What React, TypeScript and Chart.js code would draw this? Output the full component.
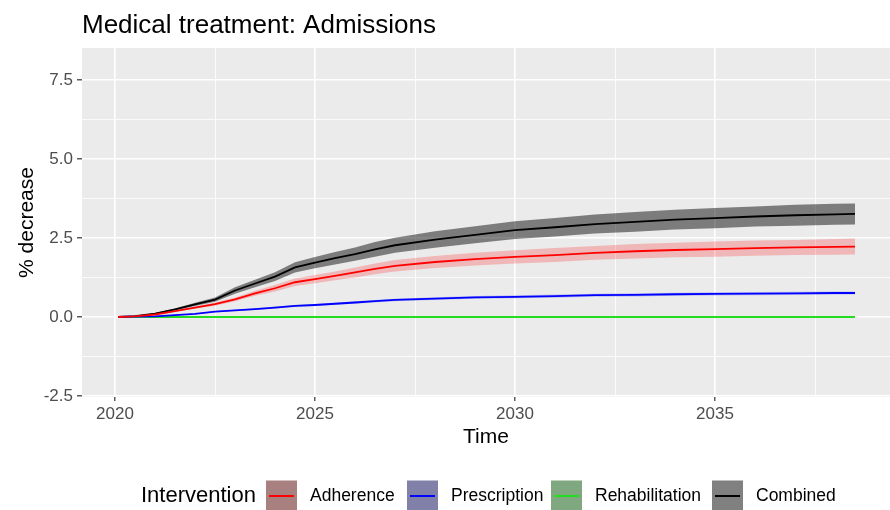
import { useEffect, useRef } from "react";
import { Chart, registerables } from "chart.js";

Chart.register(...registerables);

const FONT = '"Liberation Sans", Arial, Helvetica, sans-serif';

// Time points (years)
const years = [
  2020.08, 2020.5, 2021, 2021.5, 2022, 2022.5, 2023, 2023.5, 2024, 2024.5, 2025, 2025.5, 2026, 2026.5,
  2027, 2028, 2029, 2030, 2031, 2032, 2033, 2034, 2035, 2036, 2037, 2038, 2038.5,
];

// % decrease in admissions, central estimates
const adherence = [
  0, 0.02, 0.08, 0.19, 0.3, 0.41, 0.56, 0.75, 0.91, 1.1, 1.2, 1.3, 1.41, 1.52,
  1.62, 1.74, 1.83, 1.9, 1.96, 2.03, 2.08, 2.12, 2.15, 2.18, 2.2, 2.22, 2.23,
];
const prescription = [
  0, 0.01, 0.02, 0.06, 0.1, 0.17, 0.21, 0.25, 0.3, 0.35, 0.38, 0.42, 0.46, 0.5,
  0.54, 0.58, 0.62, 0.64, 0.66, 0.69, 0.7, 0.72, 0.73, 0.74, 0.75, 0.76, 0.76,
];
const rehabilitation = [
  0, 0, 0, 0, 0, 0, 0, 0, 0, 0, 0, 0, 0, 0,
  0, 0, 0, 0, 0, 0, 0, 0, 0, 0, 0, 0, 0,
];
const combined = [
  0, 0.03, 0.11, 0.24, 0.4, 0.55, 0.84, 1.06, 1.28, 1.57, 1.72, 1.86, 1.99, 2.14,
  2.27, 2.45, 2.6, 2.75, 2.84, 2.94, 3.01, 3.08, 3.13, 3.18, 3.22, 3.25, 3.26,
];

// Uncertainty bounds
const adherenceLow = [
  0, 0.015, 0.07, 0.17, 0.27, 0.36, 0.5, 0.67, 0.81, 0.98, 1.07, 1.16, 1.25, 1.35,
  1.44, 1.55, 1.63, 1.69, 1.74, 1.81, 1.85, 1.89, 1.91, 1.94, 1.96, 1.97, 1.98,
];
const adherenceHigh = [
  0, 0.025, 0.09, 0.21, 0.33, 0.46, 0.62, 0.83, 1.01, 1.22, 1.33, 1.44, 1.57, 1.69,
  1.8, 1.93, 2.03, 2.11, 2.18, 2.25, 2.31, 2.35, 2.39, 2.42, 2.44, 2.47, 2.48,
];
const prescriptionLow = [
  0, 0.01, 0.015, 0.05, 0.085, 0.15, 0.19, 0.225, 0.27, 0.32, 0.345, 0.385, 0.42, 0.46,
  0.5, 0.535, 0.575, 0.595, 0.61, 0.64, 0.65, 0.67, 0.68, 0.69, 0.7, 0.71, 0.71,
];
const prescriptionHigh = [
  0, 0.01, 0.025, 0.07, 0.115, 0.19, 0.23, 0.275, 0.33, 0.38, 0.415, 0.455, 0.5, 0.54,
  0.58, 0.625, 0.665, 0.685, 0.71, 0.74, 0.75, 0.77, 0.78, 0.79, 0.8, 0.81, 0.81,
];
const rehabilitationLow = [
  0, 0, 0, 0, 0, 0, 0, 0, 0, 0, 0, 0, 0, 0,
  0, 0, 0, 0, 0, 0, 0, 0, 0, 0, 0, 0, 0,
];
const rehabilitationHigh = [
  0, 0, 0, 0, 0, 0, 0, 0, 0, 0, 0, 0, 0, 0,
  0, 0, 0, 0, 0, 0, 0, 0, 0, 0, 0, 0, 0,
];
const combinedLow = [
  0, 0.025, 0.09, 0.21, 0.35, 0.48, 0.74, 0.94, 1.14, 1.41, 1.54, 1.66, 1.78, 1.91,
  2.03, 2.19, 2.33, 2.47, 2.55, 2.64, 2.7, 2.77, 2.81, 2.86, 2.89, 2.92, 2.93,
];
const combinedHigh = [
  0, 0.035, 0.13, 0.27, 0.45, 0.62, 0.94, 1.18, 1.42, 1.73, 1.9, 2.06, 2.2, 2.37,
  2.51, 2.71, 2.87, 3.03, 3.13, 3.24, 3.32, 3.39, 3.45, 3.5, 3.55, 3.58, 3.59,
];

// Axis ticks (empty label = minor grid line)
const yTicks = [-2.5, -1.25, 0, 1.25, 2.5, 3.75, 5, 6.25, 7.5];
const yTickLabels = ["-2.5", "", "0.0", "", "2.5", "", "5.0", "", "7.5"];
const xTicks = [2020, 2022.5, 2025, 2027.5, 2030, 2032.5, 2035, 2037.5];
const xTickLabels = ["2020", "", "2025", "", "2030", "", "2035", ""];

const seriesNames = ["Adherence", "Prescription", "Rehabilitation", "Combined"];
const lineColors = ["#ff0000", "#0000ff", "#22dd22", "#000000"];
const ribbonFills = [
  "rgba(255,0,0,0.22)",
  "rgba(0,0,255,0.2)",
  "rgba(0,200,0,0.2)",
  "rgba(0,0,0,0.47)",
];
const keyFills = ["#a88080", "#8080a8", "#80a880", "#808080"];

const centralSeries = [adherence, prescription, rehabilitation, combined];
const lowSeries = [adherenceLow, prescriptionLow, rehabilitationLow, combinedLow];
const highSeries = [adherenceHigh, prescriptionHigh, rehabilitationHigh, combinedHigh];

// Legend key left edges
const legendKeyX = [266, 407, 551, 712];

const toPoints = (vals: number[]) => years.map((x, i) => ({ x, y: vals[i] }));

// Panel background, titles and bottom legend
const decorPlugin = {
  id: "decor",
  beforeDraw(chart: any) {
    const { ctx, chartArea: a } = chart;
    ctx.save();
    ctx.fillStyle = "#ffffff";
    ctx.fillRect(0, 0, chart.width, chart.height);
    ctx.fillStyle = "#ebebeb";
    ctx.fillRect(a.left, a.top, a.right - a.left, a.bottom - a.top);
    ctx.restore();
  },
  afterDraw(chart: any) {
    const { ctx, chartArea: a } = chart;
    ctx.save();
    ctx.fillStyle = "#000000";
    ctx.textBaseline = "alphabetic";
    ctx.textAlign = "left";
    ctx.font = `26px ${FONT}`;
    ctx.fillText("Medical treatment: Admissions", a.left, 33);

    ctx.font = `21px ${FONT}`;
    ctx.textAlign = "center";
    ctx.fillText("Time", (a.left + a.right) / 2, 443);

    ctx.save();
    ctx.translate(33, (a.top + a.bottom) / 2);
    ctx.rotate(-Math.PI / 2);
    ctx.fillText("% decrease", 0, 0);
    ctx.restore();

    // legend
    const midY = 496;
    ctx.textBaseline = "middle";
    ctx.textAlign = "left";
    ctx.font = `22px ${FONT}`;
    ctx.fillText("Intervention", 141, midY);
    const key = 31;
    seriesNames.forEach((name, i) => {
      const x = legendKeyX[i];
      ctx.fillStyle = keyFills[i];
      ctx.fillRect(x, midY - key / 2, key, key);
      ctx.strokeStyle = lineColors[i];
      ctx.lineWidth = 2;
      ctx.beginPath();
      ctx.moveTo(x + 3, midY);
      ctx.lineTo(x + key - 3, midY);
      ctx.stroke();
      ctx.fillStyle = "#000000";
      ctx.font = `17.5px ${FONT}`;
      ctx.fillText(name, x + key + 13, midY);
    });
    ctx.restore();
  },
};

export default function App() {
  const canvasRef = useRef<HTMLCanvasElement | null>(null);

  useEffect(() => {
    document.body.style.margin = "0";
    const canvas = canvasRef.current;
    if (!canvas) return;

    const lineSets = centralSeries.map((vals, i) => ({
      label: seriesNames[i],
      data: toPoints(vals),
      borderColor: lineColors[i],
      borderWidth: 1.8,
      pointRadius: 0,
      fill: false,
      tension: 0,
      order: 0,
    }));
    const ribbonSets: any[] = [];
    centralSeries.forEach((_, i) => {
      ribbonSets.push({
        label: seriesNames[i] + " upper",
        data: toPoints(highSeries[i]),
        borderColor: "rgba(0,0,0,0)",
        borderWidth: 0,
        pointRadius: 0,
        backgroundColor: ribbonFills[i],
        fill: "+1",
        tension: 0,
        order: 1,
      });
      ribbonSets.push({
        label: seriesNames[i] + " lower",
        data: toPoints(lowSeries[i]),
        borderColor: "rgba(0,0,0,0)",
        borderWidth: 0,
        pointRadius: 0,
        fill: false,
        tension: 0,
        order: 1,
      });
    });

    const chart = new Chart(canvas, {
      type: "line",
      data: { datasets: [...ribbonSets, ...lineSets] },
      plugins: [decorPlugin],
      options: {
        responsive: false,
        maintainAspectRatio: false,
        animation: false,
        devicePixelRatio: 1,
        layout: { padding: { top: 48, left: 0, right: 0, bottom: 0 } },
        plugins: {
          legend: { display: false },
          tooltip: { enabled: false },
          title: { display: false },
        },
        scales: {
          x: {
            type: "linear",
            min: 2019.175,
            max: 2039.375,
            afterBuildTicks: (s: any) => {
              s.ticks = xTicks.map((v) => ({ value: v }));
            },
            afterFit: (s: any) => {
              s.height = 113;
            },
            border: { display: false },
            grid: {
              color: "#ffffff",
              lineWidth: (c: any) => (xTickLabels[c.index] ? 1.6 : 0.8),
              drawTicks: true,
              tickLength: 4,
              tickWidth: 1.2,
              tickColor: (c: any) => (xTickLabels[c.index] ? "#333333" : "rgba(0,0,0,0)"),
            },
            ticks: {
              autoSkip: false,
              maxRotation: 0,
              padding: 3,
              color: "#4d4d4d",
              font: { family: FONT, size: 17 },
              callback: (_v: any, i: number) => xTickLabels[i],
            },
          },
          y: {
            type: "linear",
            min: -2.53,
            max: 8.51,
            afterBuildTicks: (s: any) => {
              s.ticks = yTicks.map((v) => ({ value: v }));
            },
            afterFit: (s: any) => {
              s.width = 82;
            },
            border: { display: false },
            grid: {
              color: "#ffffff",
              lineWidth: (c: any) => (yTickLabels[c.index] ? 1.6 : 0.8),
              drawTicks: true,
              tickLength: 5,
              tickWidth: 1.2,
              tickColor: (c: any) => (yTickLabels[c.index] ? "#333333" : "rgba(0,0,0,0)"),
            },
            ticks: {
              autoSkip: false,
              padding: 4,
              color: "#4d4d4d",
              font: { family: FONT, size: 17 },
              callback: (_v: any, i: number) => yTickLabels[i],
            },
          },
        },
      },
    });

    return () => chart.destroy();
  }, []);

  return (
    <div style={{ width: 890, height: 510, background: "#ffffff" }}>
      <canvas ref={canvasRef} width={890} height={510} style={{ width: 890, height: 510, display: "block" }} />
    </div>
  );
}
